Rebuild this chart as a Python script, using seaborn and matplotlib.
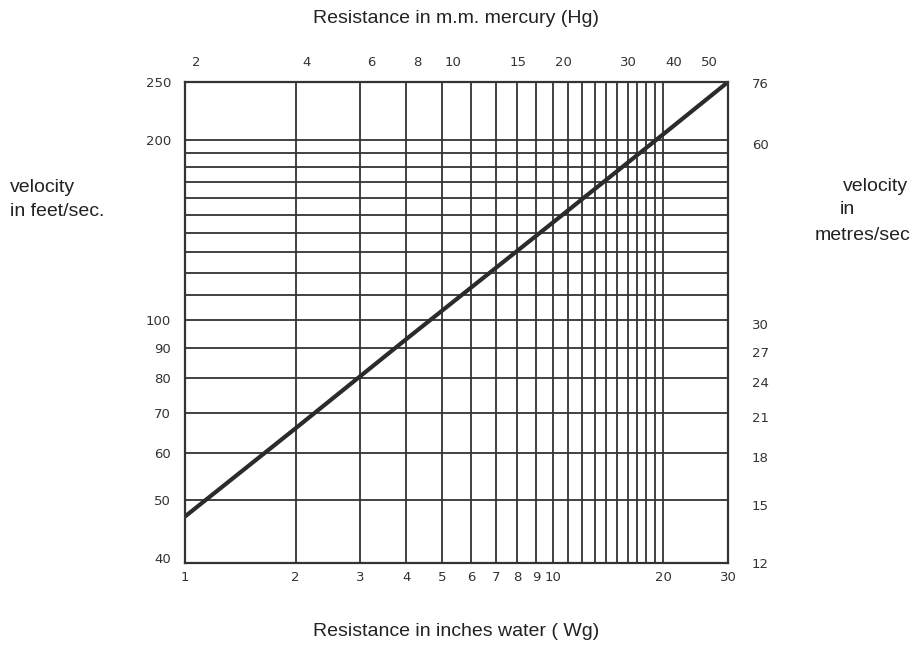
import numpy as np
import pandas as pd
import seaborn as sns
import matplotlib.pyplot as plt
from matplotlib.ticker import FixedLocator, NullLocator, NullFormatter, FuncFormatter

# Values
resistance_in = [1, 2, 4, 10, 20, 30]              # inches water gauge
velocity_fps = [47, 66, 93, 145.5, 204.5, 250]     # feet per second

x_labels = [1, 2, 3, 4, 5, 6, 7, 8, 9, 10, 20, 30]
x_grid = list(range(2, 21))                        # ruled lines 2 .. 20
y_labels = [40, 50, 60, 70, 80, 90, 100, 200, 250]
y_grid = list(range(50, 201, 10))                  # ruled lines 50 .. 200
hg_ticks = [2, 4, 6, 8, 10, 15, 20, 30, 40, 50]    # m.m. mercury
ms_ticks = [12, 15, 18, 21, 24, 27, 30, 60, 76]    # metres per second

IN_TO_MMHG = 1.868
FPS_TO_MS = 0.3048

data = pd.DataFrame({'Resistance': resistance_in, 'Velocity': velocity_fps})

sns.set_style('white')
plt.rcParams['font.family'] = ['Liberation Sans', 'DejaVu Sans']

fig = plt.figure(figsize=(9.12, 6.46), dpi=100)
ax = fig.add_axes([0.2029, 0.1285, 0.5954, 0.7446])

sns.lineplot(x='Resistance', y='Velocity', data=data, ax=ax,
             color='#2b2b2b', linewidth=3, legend=False)

ax.set_xscale('log')
ax.set_yscale('log')
ax.set_xlim(1, 30)
ax.set_ylim(39.3, 250)

num_fmt = FuncFormatter(lambda v, p: f'{v:g}')


def style_labels(labels):
    for lab in labels:
        lab.set_fontfamily('DejaVu Sans')
        lab.set_fontsize(9.5)
        lab.set_color('#333333')


# major ticks carry the labels, minor ticks carry the ruled grid
ax.xaxis.remove_overlapping_locs = False
ax.yaxis.remove_overlapping_locs = False
ax.xaxis.set_major_locator(FixedLocator(x_labels))
ax.xaxis.set_minor_locator(FixedLocator(x_grid))
ax.xaxis.set_major_formatter(num_fmt)
ax.xaxis.set_minor_formatter(NullFormatter())
ax.yaxis.set_major_locator(FixedLocator(y_labels))
ax.yaxis.set_minor_locator(FixedLocator(y_grid))
ax.yaxis.set_major_formatter(num_fmt)
ax.yaxis.set_minor_formatter(NullFormatter())

ax.grid(False, which='major')
ax.grid(True, which='minor', color='#333333', linewidth=1.3)
ax.tick_params(axis='both', which='both', length=0)
ax.tick_params(axis='x', pad=6)
ax.tick_params(axis='y', pad=10)
style_labels(ax.get_xticklabels() + ax.get_yticklabels())

for s in ax.spines.values():
    s.set_color('#333333')
    s.set_linewidth(1.6)

# Top axis: mm mercury
top = ax.secondary_xaxis('top', functions=(lambda x: x * IN_TO_MMHG, lambda m: m / IN_TO_MMHG))
top.xaxis.set_major_locator(FixedLocator(hg_ticks))
top.xaxis.set_minor_locator(NullLocator())
top.xaxis.set_major_formatter(num_fmt)
top.tick_params(length=0, pad=9)
top.spines['top'].set_visible(False)
style_labels(top.get_xticklabels())

# Right axis: metres/sec
right = ax.secondary_yaxis('right', functions=(lambda v: v * FPS_TO_MS, lambda m: m / FPS_TO_MS))
right.yaxis.set_major_locator(FixedLocator(ms_ticks))
right.yaxis.set_minor_locator(NullLocator())
right.yaxis.set_major_formatter(num_fmt)
right.tick_params(length=0, pad=17)
right.spines['right'].set_visible(False)
style_labels(right.get_yticklabels())

ax.set_xlabel('')
ax.set_ylabel('')

label_kw = dict(fontsize=14, color='#222222')
fig.text(0.500, 0.972, 'Resistance in m.m. mercury (Hg)', ha='center', va='center', **label_kw)
fig.text(0.500, 0.022, 'Resistance in inches water ( Wg)', ha='center', va='center', **label_kw)
fig.text(0.011, 0.710, 'velocity', ha='left', va='center', **label_kw)
fig.text(0.011, 0.672, 'in feet/sec.', ha='left', va='center', **label_kw)
fig.text(0.996, 0.711, 'velocity', ha='right', va='center', **label_kw)
fig.text(0.921, 0.675, 'in', ha='left', va='center', **label_kw)
fig.text(0.998, 0.636, 'metres/sec', ha='right', va='center', **label_kw)

plt.savefig('out.png', dpi=100)
